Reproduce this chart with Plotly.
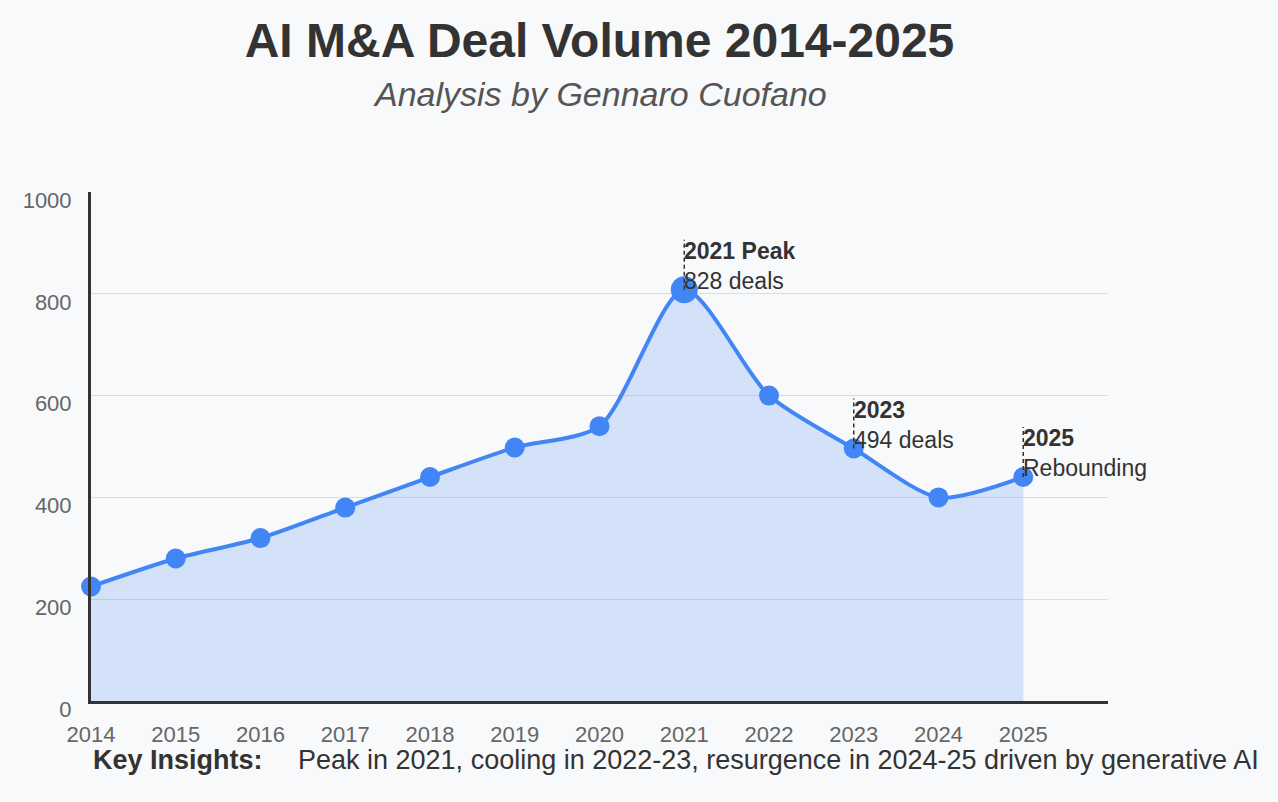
import plotly.graph_objects as go

# deal counts
years = [2014, 2015, 2016, 2017, 2018, 2019, 2020, 2021, 2022, 2023, 2024, 2025]
deals = [225, 280, 320, 380, 440, 498, 540, 808, 600, 496, 400, 440]

peak_year = 2021

callout_years = [2021, 2023, 2025]
callout_titles = ["2021 Peak", "2023", "2025"]
callout_notes = ["828 deals", "494 deals", "Rebounding"]

y_ticks = [0, 200, 400, 600, 800, 1000]

insight_label = "Key Insights:"
insight_text = "Peak in 2021, cooling in 2022-23, resurgence in 2024-25 driven by generative AI"

FONT = "Liberation Sans, Arial, Helvetica, sans-serif"
BLUE = "#4285f4"
BG = "#f8f9fa"

# the page body has an 8px margin, so the figure is a bit smaller than the window
W, H = 1262, 786

sizes = [27 if y == peak_year else 20 for y in years]

fig = go.Figure()
fig.add_trace(go.Scatter(
    x=years, y=deals,
    mode="lines+markers",
    line=dict(color=BLUE, width=4, shape="spline", smoothing=0.75),
    marker=dict(color=BLUE, size=sizes, opacity=1, line=dict(width=0)),
    fill="tozeroy",
    fillcolor="rgba(66,133,244,0.2)",
    cliponaxis=False,
    hoverinfo="x+y",
    showlegend=False,
))

lookup = dict(zip(years, deals))
for yr, ttl, note in zip(callout_years, callout_titles, callout_notes):
    val = lookup[yr]
    # short dashed leader above the point
    fig.add_shape(type="line", xref="x", yref="y",
                  x0=yr, x1=yr, ysizemode="pixel", yanchor=val, y0=0, y1=50,
                  line=dict(color="#333", width=1.5, dash="4px,3px"))
    fig.add_annotation(x=yr, y=val, xref="x", yref="y",
                       text=f"<b>{ttl}</b><br>{note}",
                       showarrow=False, xanchor="left", yanchor="bottom",
                       align="left", xshift=-2, yshift=-6,
                       font=dict(family=FONT, size=23, color="#333"))

# subtitle
fig.add_annotation(xref="paper", yref="paper", x=0.5, y=1, yshift=98,
                   text="<i>Analysis by Gennaro Cuofano</i>", showarrow=False,
                   xanchor="center", yanchor="middle",
                   font=dict(family=FONT, size=34, color="#555"))

# footer
fig.add_annotation(xref="paper", yref="paper", x=0, y=0, yshift=-59,
                   text=f"<b>{insight_label}</b>", showarrow=False,
                   xanchor="left", yanchor="middle",
                   font=dict(family=FONT, size=27, color="#333"))
fig.add_annotation(xref="paper", yref="paper", x=0.2016, y=0, yshift=-59,
                   text=insight_text, showarrow=False,
                   xanchor="left", yanchor="middle",
                   font=dict(family=FONT, size=27, color="#333"))

fig.update_layout(
    width=W, height=H,
    paper_bgcolor=BG, plot_bgcolor=BG,
    margin=dict(l=83, r=162, t=184, b=93),
    title=dict(text="<b>AI M&A Deal Volume 2014-2025</b>",
               x=0.5, xref="paper", xanchor="center",
               y=1 - 32 / H, yref="container", yanchor="middle",
               font=dict(family=FONT, size=48, color="#333")),
    font=dict(family=FONT),
    xaxis=dict(range=[2014, 2026], tickvals=years, showgrid=False,
               zeroline=False, showline=True, linecolor="#333", linewidth=3,
               ticks="", ticklabelstandoff=12,
               tickfont=dict(family=FONT, size=22, color="#666")),
    yaxis=dict(range=[0, 1000], tickvals=y_ticks, gridcolor="#dddddd",
               gridwidth=1, zeroline=False, showline=True, linecolor="#333",
               linewidth=3, ticks="", ticklabelshift=8, ticklabelstandoff=12,
               tickfont=dict(family=FONT, size=22, color="#666")),
)

fig.write_html("out.html",
               post_script="document.body.style.backgroundColor='#f8f9fa';")
